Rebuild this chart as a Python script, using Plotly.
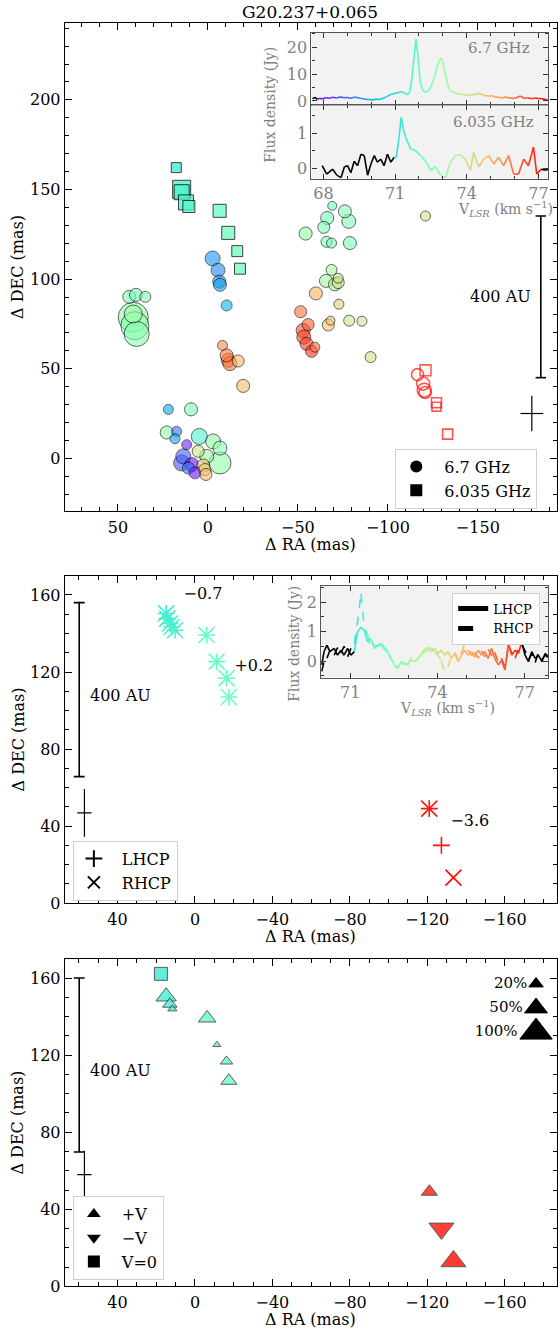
import math
import plotly.graph_objects as go

W, H = 560, 1342
FONT = "DejaVu Serif, Liberation Serif, serif"
GRAY = "#808080"

# ---------------- data: top panel, 6.7 GHz spots (filled circles) ----------------
m67_ra = [22.0, 9.4, 22.9, 17.4, 18.3, 4.8, 11.8, -2.9, -6.7, 13.7,
          14.6, 9.0, 10.9, 7.2, 5.4, 0.7, -6.7, 2.6, 1.7, 1.1,
          43.7, 40.0, 34.8, 41.5, 40.6, 39.6, 41.5,
          -2.6, -5.6, -6.3, -6.7, -10.4,
          -8.1, -10.4, -11.3, -16.8, -12.2, -19.6,
          -69.1, -76.1, -78.3, -66.3, -64.4, -54.3, -65.9, -68.7, -78.9, -120.9,
          -68.7, -65.6, -70.6, -72.4, -72.4, -60.0, -72.8, -68.1, -66.9, -78.5, -85.6, -90.4,
          -51.5, -55.7, -52.9, -53.3, -54.8, -57.6, -59.4]
m67_dec = [27.3, 27.3, 14.4, 15.0, 10.9, 12.2, 7.6, 9.4, 5.7, 1.1,
           -2.6, -3.5, -5.4, -8.1, 3.9, 1.1, -2.6, -4.0, -6.3, -9.0,
           90.1, 91.2, 90.1, 78.7, 74.0, 69.4, 80.5,
           111.5, 105.0, 98.6, 96.8, 85.3,
           63.0, 57.4, 54.7, 54.3, 52.8, 40.4,
           140.9, 137.8, 132.2, 134.1, 128.9, 125.4, 120.8, 120.1, 120.1, 135.2,
           105.1, 99.0, 97.1, 98.0, 100.5, 92.0, 86.0, 76.8, 74.4, 76.8, 76.5, 56.5,
           81.8, 74.6, 71.3, 67.6, 63.9, 59.7, 62.0]
m67_vel = [70.0, 72.4, 72.8, 69.2, 69.8, 71.6, 68.2, 72.9, 72.8, 69.0,
           68.8, 68.0, 69.3, 68.1, 74.0, 73.2, 72.9, 74.5, 74.6, 74.7,
           72.5, 72.3, 72.6, 72.9, 72.8, 72.7, 73.0,
           69.7, 69.5, 69.6, 69.8, 70.2,
           75.6, 75.8, 76.0, 74.9, 75.9, 74.8,
           72.2, 72.7, 72.6, 72.4, 72.5, 72.9, 72.4, 72.5, 72.5, 73.9,
           73.3, 73.2, 73.4, 74.2, 73.8, 75.0, 74.5, 74.6, 74.8, 73.8, 73.9, 73.9,
           75.9, 76.2, 76.4, 76.5, 76.6, 76.7, 76.0]
m67_flux = [4.0, 6.8, 6.8, 4.0, 4.0, 10.2, 4.0, 9.0, 7.8, 9.0,
            10.2, 7.8, 5.8, 5.8, 5.8, 7.8, 19.4, 6.8, 5.8, 5.8,
            6.8, 6.8, 4.8, 36.0, 31.4, 25.0, 13.0,
            9.0, 7.8, 6.8, 6.8, 4.8,
            4.0, 6.8, 7.8, 5.8, 7.8, 6.8,
            3.2, 6.8, 7.8, 6.8, 5.8, 6.8, 4.8, 4.0, 6.8, 4.0,
            4.8, 6.8, 6.8, 5.8, 4.0, 6.8, 4.0, 3.2, 5.8, 4.8, 4.0, 4.8,
            5.8, 5.8, 7.8, 7.8, 6.8, 5.8, 4.0]

# 6.7 GHz spots drawn open
o67_ra = [-116.5, -119.6, -120.2, -120.7]
o67_dec = [46.7, 41.7, 38.0, 36.7]
o67_vel = [77.1, 77.1, 77.2, 77.2]
o67_flux = [5.8, 6.8, 7.8, 5.8]

# 6.035 GHz spots (squares)
s60_ra = [17.6, 14.6, 14.6, 12.2, 10.6, -6.5, -11.3, -16.3, -17.8]
s60_dec = [162.2, 150.1, 148.5, 142.8, 140.5, 138.1, 125.8, 115.6, 105.8]
s60_vel = [71.3, 71.5, 71.6, 71.6, 71.7, 72.1, 72.2, 72.2, 72.2]
s60_flux = [4.0, 13.0, 9.0, 9.0, 5.8, 6.8, 6.8, 4.8, 4.8]

o60_ra = [-120.9, -127.0, -127.0, -133.2]
o60_dec = [49.1, 31.0, 28.8, 13.5]
o60_vel = [77.0, 77.1, 77.1, 77.2]
o60_flux = [4.8, 4.0, 3.2, 4.0]

# ---------------- spectra ----------------
v67 = [67.55, 67.65, 67.75, 67.85, 67.95, 68.1, 68.25, 68.4, 68.55, 68.7,
       68.85, 69.0, 69.15, 69.3, 69.45, 69.6, 69.75, 69.9, 70.05, 70.2,
       70.35, 70.5, 70.65, 70.8, 70.95, 71.1, 71.25, 71.4, 71.5, 71.6,
       71.7, 71.8, 71.87, 71.95, 72.05, 72.15, 72.25, 72.35, 72.45, 72.55,
       72.65, 72.75, 72.85, 72.92, 73.0, 73.1, 73.2, 73.3, 73.4, 73.55,
       73.7, 73.85, 74.0, 74.15, 74.3, 74.45, 74.6, 74.75, 74.9, 75.05,
       75.2, 75.35, 75.5, 75.65, 75.8, 75.95, 76.1, 76.25, 76.4, 76.55,
       76.7, 76.85, 77.0, 77.15, 77.3, 77.4]
f67 = [0.8, 1.3, 0.6, 1.0, 0.7, 1.2, 1.0, 1.4, 1.1, 1.5,
       1.2, 1.3, 1.0, 1.4, 1.2, 0.9, 0.6, 0.5, 0.4, 0.6,
       0.5, 1.0, 1.6, 2.3, 2.8, 3.0, 3.4, 3.0, 2.4, 3.0,
       8.0, 17.0, 23.0, 17.5, 7.0, 4.2, 3.2, 3.5, 4.5, 6.5,
       9.0, 12.5, 15.0, 16.0, 14.5, 10.0, 6.0, 4.0, 3.3, 2.9,
       2.6, 2.4, 2.2, 2.0, 2.4, 2.8, 2.5, 2.0, 1.8, 1.9,
       1.5, 1.3, 1.2, 1.4, 1.1, 0.9, 1.3, 1.8, 1.0, 1.2,
       0.8, 1.1, 0.9, 0.8, 0.5, 0.2]

v60 = [67.95, 68.14, 68.39, 68.56, 68.74, 68.88, 69.01, 69.15, 69.29, 69.43,
       69.57, 69.71, 69.85, 69.99, 70.13, 70.26, 70.40, 70.54, 70.68, 70.82,
       70.96, 71.05, 71.15, 71.26, 71.35, 71.44, 71.65, 71.86, 72.07, 72.28,
       72.49, 72.69, 72.90, 73.11, 73.32, 73.53, 73.74, 73.94, 74.15, 74.29,
       74.50, 74.71, 74.92, 75.13, 75.33, 75.54, 75.75, 75.96, 76.17, 76.38,
       76.58, 76.79, 76.93, 77.11, 77.28, 77.42]
f60 = [0.07, -0.17, -0.03, -0.20, -0.27, 0.04, 0.07, -0.13, 0.20, 0.07,
       0.40, 0.36, -0.20, 0.12, 0.36, 0.17, 0.26, 0.07, 0.40, 0.17,
       0.31, 0.30, 0.80, 1.45, 1.10, 0.88, 0.55, 0.50, 0.36, 0.20,
       -0.06, 0.04, -0.20, -0.27, 0.17, 0.36, 0.38, 0.26, -0.06, 0.45,
       0.04, 0.26, 0.36, 0.12, 0.31, 0.07, 0.36, -0.17, -0.17, 0.26,
       0.07, 0.60, -0.17, -0.03, -0.06, -0.03]

vpol = [70.02, 70.10, 70.20, 70.30, 70.45, 70.56, 70.68, 70.79, 70.91, 71.02, 71.14,
        71.25, 71.37, 71.48, 71.60, 71.71, 71.83, 71.94, 72.06, 72.17, 72.29,
        72.40, 72.52, 72.63, 72.75, 72.86, 72.98, 73.09, 73.21, 73.32, 73.44,
        73.56, 73.67, 73.79, 73.90, 74.02, 74.13, 74.25, 74.36, 74.48, 74.59,
        74.71, 74.82, 74.94, 75.05, 75.17, 75.28, 75.40, 75.51, 75.63, 75.74,
        75.86, 75.97, 76.09, 76.20, 76.32, 76.44, 76.55, 76.67, 76.78, 76.90,
        77.01, 77.13, 77.24, 77.36, 77.47, 77.59, 77.70, 77.82]
lhcp = [-0.13, 0.32, 0.54, 0.32, 0.43, 0.20, 0.37, 0.20, 0.43, 0.20, 0.32,
        0.99, 1.15, 1.04, 0.65, 0.76, 0.43, 0.54, 0.60, 0.48, 0.32,
        0.09, -0.13, -0.25, -0.02, -0.13, -0.08, 0.03, -0.02, 0.09, 0.20,
        0.32, 0.48, 0.32, 0.43, 0.26, 0.37, 0.20, 0.32, 0.09, 0.26,
        -0.02, 0.20, 0.37, 0.20, 0.32, 0.14, 0.37, 0.20, 0.32, 0.09,
        0.43, 0.09, -0.13, 0.03, -0.30, 0.60, 0.20, 0.37, 0.26, 0.65,
        0.20, -0.02, 0.32, 0.09, 0.20, -0.02, 0.26, 0.14]
rhcp = [-0.35, -0.02, 0.10, 0.35, 0.20, 0.45, 0.28, 0.50, 0.15, 0.42, 0.60,
        1.32, 2.28, 1.15, 0.88, 0.43, 0.55, 0.50, 0.56, 0.40, 0.30,
        0.05, -0.20, -0.18, -0.08, -0.05, -0.15, 0.10, 0.00, 0.05, 0.25,
        0.40, 0.35, 0.45, 0.30, 0.20, 0.00, -0.35, -0.20, 0.15, 0.30,
        0.05, 0.25, 0.60, 0.35, 0.20, 0.30, 0.10, 0.35, 0.15, 0.40,
        0.20, 0.30, -0.05, 0.10, -0.20, 0.50, 0.30, 0.10, 0.40, 0.55,
        0.35, 0.05, 0.25, -0.05, 0.30, 0.05, 0.20, 0.10]

# ---------------- middle panel: polarized 6.035 GHz spots ----------------
pl_ra = [14.9, 14.3, 12.9, 12.0, 10.3, -6.0, -11.2, -16.3, -17.5, -121.0, -127.3]
pl_dec = [150.4, 147.7, 145.2, 143.5, 141.7, 139.2, 125.4, 116.8, 107.0, 49.1, 30.0]
pl_vel = [71.4, 71.45, 71.5, 71.55, 71.6, 72.0, 72.1, 72.15, 72.2, 77.0, 77.1]
pr_ra = [14.9, 14.3, 12.9, 12.0, 10.3, -6.0, -11.2, -16.3, -17.5, -121.0, -133.5]
pr_dec = [150.4, 147.7, 145.2, 143.5, 141.7, 139.2, 125.4, 116.8, 107.0, 49.1, 13.3]
pr_vel = [71.4, 71.45, 71.5, 71.55, 71.6, 72.0, 72.1, 72.15, 72.2, 77.0, 77.2]
bfield_labels = ["\u22120.7", "+0.2", "\u22123.6"]
bfield_ra = [-4.1, -30.4, -142.0]
bfield_dec = [159.8, 122.8, 42.0]

# ---------------- bottom panel: circular polarization ----------------
cp_ra = [17.6, 14.9, 13.0, 11.7, -6.3, -11.3, -16.3, -17.5, -121.1, -127.3, -133.5]
cp_dec = [162.2, 150.4, 146.5, 144.0, 139.2, 125.4, 116.8, 106.7, 49.1, 30.0, 13.0]
cp_vel = [71.3, 71.4, 71.45, 71.5, 72.0, 72.1, 72.15, 72.2, 77.0, 77.1, 77.2]
cp_pct = [0, 40, 20, 8, 30, 6, 15, 25, 25, -60, 60]
key_labels = ["20%", "50%", "100%"]
key_pct = [20, 50, 100]

# ---------------- helpers ----------------
VMIN, VMAX = 67.8, 77.3


def rainbow(v, alpha=1.0):
    t = min(max((v - VMIN) / (VMAX - VMIN), 0.0), 1.0)
    r = min(max(abs(2 * t - 0.5), 0.0), 1.0)
    g = min(max(math.sin(math.pi * t), 0.0), 1.0)
    b = min(max(math.cos(math.pi * t / 2), 0.0), 1.0)
    return "rgba(%d,%d,%d,%g)" % (round(r * 255), round(g * 255), round(b * 255), alpha)


def px(x):
    return x / W


def py(y):
    return 1 - y / H


def flux_size(f):
    return 5 * math.sqrt(f)


def pct_size(p):
    return 28 * math.sqrt(abs(p) / 100.0)


def main_axis(rng, dtick, minor, **kw):
    d = dict(range=rng, showline=True, linecolor="black", linewidth=1.3, mirror="allticks",
             ticks="inside", ticklen=7, tickwidth=1.2, tickcolor="black", showgrid=False,
             zeroline=False, dtick=dtick, tick0=0,
             tickfont=dict(family=FONT, size=16, color="black"),
             minor=dict(ticks="inside", ticklen=4, tickwidth=1, tickcolor="black",
                        dtick=minor, tick0=0, showgrid=False))
    d.update(kw)
    return d


def inset_axis(rng, tickvals, minor, **kw):
    d = dict(range=rng, showline=True, linecolor="#555555", linewidth=1.2, mirror="allticks",
             ticks="inside", ticklen=5, tickwidth=1.1, tickcolor="#333333", showgrid=False,
             zeroline=False, tickmode="array", tickvals=tickvals,
             tickfont=dict(family=FONT, size=16, color=GRAY),
             minor=dict(ticks="inside", ticklen=3, tickwidth=1, tickcolor="#333333",
                        dtick=minor, tick0=0, showgrid=False))
    d.update(kw)
    return d


def colored_line(fig, v, f, lo, hi, xa, ya, dash="solid", chunk=1, width=1.6):
    n = len(v)
    i = 0
    while i < n - 1:
        j = min(i + chunk, n - 1)
        mid = 0.5 * (v[i] + v[j])
        col = rainbow(mid) if lo <= mid <= hi else "black"
        fig.add_trace(go.Scatter(x=v[i:j + 1], y=f[i:j + 1], mode="lines",
                                 line=dict(color=col, width=width, dash=dash),
                                 xaxis=xa, yaxis=ya, showlegend=False, hoverinfo="skip"))
        i = j


fig = go.Figure()

# ---------------- top panel ----------------
order = sorted(range(len(m67_ra)), key=lambda k: -m67_flux[k])
fig.add_trace(go.Scatter(
    x=[m67_ra[k] for k in order], y=[m67_dec[k] for k in order], mode="markers",
    marker=dict(symbol="circle", size=[flux_size(m67_flux[k]) for k in order],
                color=[rainbow(m67_vel[k]) for k in order], opacity=0.6,
                line=dict(color="black", width=1)),
    xaxis="x", yaxis="y", showlegend=False, hoverinfo="skip"))
fig.add_trace(go.Scatter(
    x=o67_ra, y=o67_dec, mode="markers",
    marker=dict(symbol="circle-open", size=[flux_size(f) for f in o67_flux],
                color=[rainbow(v) for v in o67_vel], line=dict(width=1.6)),
    xaxis="x", yaxis="y", showlegend=False, hoverinfo="skip"))
fig.add_trace(go.Scatter(
    x=s60_ra, y=s60_dec, mode="markers",
    marker=dict(symbol="square", size=[flux_size(f) for f in s60_flux],
                color=[rainbow(v) for v in s60_vel], opacity=0.75,
                line=dict(color="black", width=1)),
    xaxis="x", yaxis="y", showlegend=False, hoverinfo="skip"))
fig.add_trace(go.Scatter(
    x=o60_ra, y=o60_dec, mode="markers",
    marker=dict(symbol="square-open", size=[flux_size(f) for f in o60_flux],
                color=[rainbow(v) for v in o60_vel], line=dict(width=1.6)),
    xaxis="x", yaxis="y", showlegend=False, hoverinfo="skip"))
# legend entries
fig.add_trace(go.Scatter(x=[None], y=[None], mode="markers", name="\u20026.7 GHz",
                         marker=dict(symbol="circle", color="black", size=13),
                         xaxis="x", yaxis="y", legend="legend"))
fig.add_trace(go.Scatter(x=[None], y=[None], mode="markers", name="\u20026.035 GHz",
                         marker=dict(symbol="square", color="black", size=13),
                         xaxis="x", yaxis="y", legend="legend"))

# top insets spectra
colored_line(fig, v67, f67, 67.8, 77.35, "x2", "y2")
colored_line(fig, v60, f60, 71.0, 77.05, "x3", "y3")

# ---------------- middle panel ----------------
fig.add_trace(go.Scatter(
    x=pl_ra, y=pl_dec, mode="markers",
    marker=dict(symbol="cross-thin-open", size=12, color=[rainbow(v) for v in pl_vel],
                line=dict(width=1.6)),
    xaxis="x4", yaxis="y4", showlegend=False, hoverinfo="skip"))
fig.add_trace(go.Scatter(
    x=pr_ra, y=pr_dec, mode="markers",
    marker=dict(symbol="x-thin-open", size=16, color=[rainbow(v) for v in pr_vel],
                line=dict(width=1.6)),
    xaxis="x4", yaxis="y4", showlegend=False, hoverinfo="skip"))
fig.add_trace(go.Scatter(
    x=bfield_ra, y=bfield_dec, mode="text", text=bfield_labels,
    textfont=dict(family=FONT, size=16, color="black"),
    xaxis="x4", yaxis="y4", showlegend=False, hoverinfo="skip"))
fig.add_trace(go.Scatter(x=[None], y=[None], mode="markers", name="\u2002LHCP",
                         marker=dict(symbol="cross-thin-open", color="black", size=14,
                                     line=dict(width=1.4)),
                         xaxis="x4", yaxis="y4", legend="legend2"))
fig.add_trace(go.Scatter(x=[None], y=[None], mode="markers", name="\u2002RHCP",
                         marker=dict(symbol="x-thin-open", color="black", size=14,
                                     line=dict(width=1.4)),
                         xaxis="x4", yaxis="y4", legend="legend2"))

# middle inset spectra
colored_line(fig, vpol, lhcp, 71.15, 76.95, "x5", "y5")
colored_line(fig, vpol, rhcp, 71.15, 76.95, "x5", "y5", dash="dash", chunk=2)
fig.add_trace(go.Scatter(x=[None], y=[None], mode="lines", name="LHCP",
                         line=dict(color="black", width=1.6), xaxis="x5", yaxis="y5",
                         legend="legend3"))
fig.add_trace(go.Scatter(x=[None], y=[None], mode="lines", name="RHCP",
                         line=dict(color="black", width=1.6, dash="dash"), xaxis="x5",
                         yaxis="y5", legend="legend3"))

# ---------------- bottom panel ----------------
sym = ["square" if p == 0 else ("triangle-up" if p > 0 else "triangle-down") for p in cp_pct]
siz = [13 if p == 0 else pct_size(p) for p in cp_pct]
fig.add_trace(go.Scatter(
    x=cp_ra, y=cp_dec, mode="markers",
    marker=dict(symbol=sym, size=siz, color=[rainbow(v) for v in cp_vel], opacity=0.8,
                line=dict(color="#333333", width=1)),
    xaxis="x6", yaxis="y6", showlegend=False, hoverinfo="skip"))
fig.add_trace(go.Scatter(x=[None], y=[None], mode="markers", name="\u2002+V",
                         marker=dict(symbol="triangle-up", color="black", size=14),
                         xaxis="x6", yaxis="y6", legend="legend4"))
fig.add_trace(go.Scatter(x=[None], y=[None], mode="markers", name="\u2002\u2212V",
                         marker=dict(symbol="triangle-down", color="black", size=14),
                         xaxis="x6", yaxis="y6", legend="legend4"))
fig.add_trace(go.Scatter(x=[None], y=[None], mode="markers", name="\u2002V=0",
                         marker=dict(symbol="square", color="black", size=13),
                         xaxis="x6", yaxis="y6", legend="legend4"))
# size key
fig.add_trace(go.Scatter(
    x=["k"] * len(key_labels), y=key_labels, mode="markers+text", text=key_labels,
    textposition="middle left", textfont=dict(family=FONT, size=15, color="black"),
    marker=dict(symbol="triangle-up", color="#000000", opacity=1,
                size=[pct_size(p) for p in key_pct], line=dict(color="#000000", width=1)),
    cliponaxis=False, xaxis="x7", yaxis="y7", showlegend=False, hoverinfo="skip"))

# ---------------- layout ----------------
TOP_X = [79.5, -194.0]
TOP_Y = [-29.5, 243.0]
MID_X = [67.2, -187.0]
MID_Y = [0.0, 170.0]
SP67_X = [67.5, 77.4]
SP67_Y = [-1.6, 25.4]
SP60_Y = [-0.3, 1.8]
POL_X = [70.0, 77.8]
POL_Y = [-0.56, 2.56]

layout = dict(
    width=W, height=H, margin=dict(l=0, r=0, t=0, b=0),
    paper_bgcolor="#ffffff", plot_bgcolor="rgba(0,0,0,0)",
    font=dict(family=FONT, size=16, color="black"),
    xaxis=main_axis(TOP_X, 50, 10, domain=[px(65), px(558)], anchor="y", ticklabelstandoff=1),
    yaxis=main_axis(TOP_Y, 50, 10, domain=[py(515), py(23)], anchor="x"),
    xaxis2=inset_axis(SP67_X, [68, 71, 74, 77], 1, domain=[px(312), px(549)], anchor="y2",
                      showticklabels=False),
    yaxis2=inset_axis(SP67_Y, [0, 10, 20], 5, domain=[py(106), py(33)], anchor="x2"),
    xaxis3=inset_axis(SP67_X, [68, 71, 74, 77], 1, domain=[px(312), px(549)], anchor="y3"),
    yaxis3=inset_axis(SP60_Y, [0, 1], 0.5, domain=[py(180), py(106)], anchor="x3"),
    xaxis4=main_axis(MID_X, 40, 10, domain=[px(65), px(558)], anchor="y4", ticklabelstandoff=1),
    yaxis4=main_axis(MID_Y, 40, 10, domain=[py(910), py(580)], anchor="x4"),
    xaxis5=inset_axis(POL_X, [71, 74, 77], 1, domain=[px(321.7), px(549)], anchor="y5"),
    yaxis5=inset_axis(POL_Y, [0, 1, 2], 0.5, domain=[py(682.7), py(590)], anchor="x5"),
    xaxis6=main_axis(MID_X, 40, 10, domain=[px(65), px(558)], anchor="y6", ticklabelstandoff=1),
    yaxis6=main_axis(MID_Y, 40, 10, domain=[py(1296), py(966)], anchor="x6"),
    xaxis7=dict(domain=[px(522), px(552)], anchor="y7", visible=False, type="category",
                range=[-0.5, 0.5], fixedrange=True),
    yaxis7=dict(domain=[py(1052), py(979)], anchor="x7", visible=False, type="category",
                categoryorder="array", categoryarray=key_labels[::-1], range=[-0.5, 2.5],
                fixedrange=True),
    legend=dict(x=px(396), y=py(452), xanchor="left", yanchor="top", bgcolor="white",
                bordercolor="#d0d0d0", borderwidth=1, itemsizing="constant",
                font=dict(family=FONT, size=16, color="black")),
    legend2=dict(x=px(73), y=py(847), xanchor="left", yanchor="top", bgcolor="white",
                 bordercolor="#d0d0d0", borderwidth=1, itemsizing="constant",
                 font=dict(family=FONT, size=16, color="black")),
    legend3=dict(x=px(453), y=py(597), xanchor="left", yanchor="top", bgcolor="white",
                 bordercolor="#d0d0d0", borderwidth=1, itemsizing="constant",
                 font=dict(family=FONT, size=13, color="black")),
    legend4=dict(x=px(73), y=py(1205), xanchor="left", yanchor="top", bgcolor="white",
                 bordercolor="#d0d0d0", borderwidth=1, itemsizing="constant",
                 font=dict(family=FONT, size=16, color="black")),
    showlegend=True,
)
fig.update_layout(**layout)

# inset backgrounds
shapes = [
    dict(type="rect", xref="x2", yref="y2", x0=SP67_X[0], x1=SP67_X[1], y0=SP67_Y[0],
         y1=SP67_Y[1], fillcolor="#f2f2f2", line=dict(width=0), layer="below"),
    dict(type="rect", xref="x3", yref="y3", x0=SP67_X[0], x1=SP67_X[1], y0=SP60_Y[0],
         y1=SP60_Y[1], fillcolor="#f2f2f2", line=dict(width=0), layer="below"),
    dict(type="rect", xref="x5", yref="y5", x0=POL_X[0], x1=POL_X[1], y0=POL_Y[0],
         y1=POL_Y[1], fillcolor="#f2f2f2", line=dict(width=0), layer="below"),
]


def scale_bar(xr, yr, x, y0, y1, cap):
    return [dict(type="line", xref=xr, yref=yr, x0=x, x1=x, y0=y0, y1=y1,
                 line=dict(color="black", width=1.6)),
            dict(type="line", xref=xr, yref=yr, x0=x - cap, x1=x + cap, y0=y0, y1=y0,
                 line=dict(color="black", width=1.6)),
            dict(type="line", xref=xr, yref=yr, x0=x - cap, x1=x + cap, y0=y1, y1=y1,
                 line=dict(color="black", width=1.6))]


def cross(xr, yr, x, y, dx, dy):
    return [dict(type="line", xref=xr, yref=yr, x0=x, x1=x, y0=y - dy, y1=y + dy,
                 line=dict(color="black", width=1.2)),
            dict(type="line", xref=xr, yref=yr, x0=x - dx, x1=x + dx, y0=y, y1=y,
                 line=dict(color="black", width=1.2))]


shapes += scale_bar("x", "y", -185.0, 45.0, 135.2, 2.9)
shapes += cross("x", "y", -180.0, 25.0, 6.3, 9.9)
shapes += scale_bar("x4", "y4", 59.8, 65.7, 156.0, 2.8)
shapes += cross("x4", "y4", 57.1, 46.9, 3.7, 12.4)
shapes += scale_bar("x6", "y6", 59.8, 69.7, 160.0, 2.8)
shapes += cross("x6", "y6", 57.1, 58.0, 3.7, 12.4)
fig.update_layout(shapes=shapes)

ann = []


def text(x, y, s, size=16, color="black", angle=0, xanchor="center", yanchor="middle",
         xref="paper", yref="paper"):
    ann.append(dict(x=x, y=y, xref=xref, yref=yref, text=s, showarrow=False,
                    font=dict(family=FONT, size=size, color=color), textangle=angle,
                    xanchor=xanchor, yanchor=yanchor))


text(px(311), py(12), "G20.237+0.065", size=17)
text(px(311), py(549), "\u0394 RA (mas)")
text(px(18), py(269), "\u0394 DEC (mas)", angle=-90)
text(px(311), py(944), "\u0394 RA (mas)")
text(px(18), py(745), "\u0394 DEC (mas)", angle=-90)
text(px(311), py(1329), "\u0394 RA (mas)")
text(px(18), py(1131), "\u0394 DEC (mas)", angle=-90)
# insets
text(px(533), py(48), "6.7 GHz", size=15, color=GRAY, xanchor="right")
text(px(537), py(123), "6.035 GHz", size=15, color=GRAY, xanchor="right")
text(px(271), py(106), "Flux density (Jy)", size=14, color=GRAY, angle=-90)
text(px(556), py(211), "V<sub><i>LSR</i></sub> (km s<sup>\u22121</sup>)", size=14, color=GRAY,
     xanchor="right")
text(px(295), py(648), "Flux density (Jy)", size=14, color=GRAY, angle=-90)
text(px(448), py(713), "V<sub><i>LSR</i></sub> (km s<sup>\u22121</sup>)", size=14, color=GRAY)
# scale bar labels
text(-185.0, 90.1, "400 AU", xref="x", yref="y", xanchor="right")
ann[-1]["xshift"] = -8
text(59.8, 108.0, "400 AU", xref="x4", yref="y4", xanchor="left")
ann[-1]["xshift"] = 9
text(59.8, 112.0, "400 AU", xref="x6", yref="y6", xanchor="left")
ann[-1]["xshift"] = 9
fig.update_layout(annotations=ann)

fig.write_html("out.html")
